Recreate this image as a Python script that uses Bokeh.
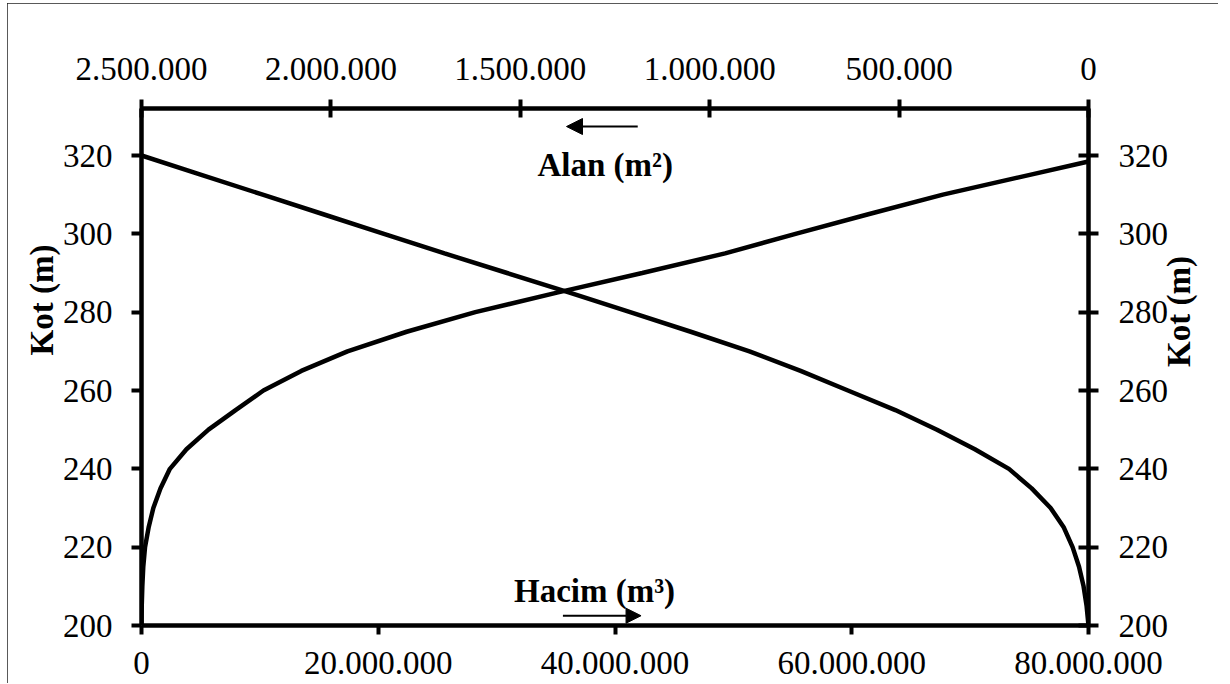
import math
from bokeh.plotting import figure
from bokeh.models import (Range1d, LinearAxis, FixedTicker, CustomJSTickFormatter,
                          Arrow, NormalHead, Label, Title)
from bokeh.embed import file_html
from bokeh.resources import INLINE

# ---- data ----
elevation = [200, 205, 210, 215, 220, 225, 230, 235, 240, 245, 250, 255, 260,
             265, 270, 275, 280, 285, 290, 295, 300, 305, 310, 315, 320]  # Kot (m)
area = [0, 5e3, 13e3, 25e3, 42e3, 65e3, 100e3, 150e3, 210e3, 300e3, 400e3, 510e3,
        635e3, 760e3, 895e3, 1.05e6, 1.21e6, 1.37e6, 1.535e6, 1.70e6, 1.86e6,
        2.02e6, 2.18e6, 2.34e6, 2.50e6]  # Alan (m²)
volume = [0, 0.02e6, 0.07e6, 0.15e6, 0.3e6, 0.6e6, 1.0e6, 1.6e6, 2.4e6, 3.8e6,
          5.66e6, 7.95e6, 10.3e6, 13.5e6, 17.4e6, 22.4e6, 28.2e6, 35.1e6, 42.3e6,
          49.3e6, 55.25e6, 61.4e6, 67.7e6, 74.95e6, 82.2e6]  # Hacim (m³)

volume_ticks = [0, 20e6, 40e6, 60e6, 80e6]
area_ticks = [0, 500e3, 1000e3, 1500e3, 2000e3, 2500e3]
elev_ticks = [200, 220, 240, 260, 280, 300, 320]

FONT = "Liberation Serif"
FS = "33px"

p = figure(width=1211, height=680, output_backend="svg", toolbar_location=None,
           x_range=Range1d(0, 80e6), y_range=Range1d(200, 332),
           x_axis_location=None, y_axis_location=None)
p.extra_x_ranges = {"area": Range1d(2.5e6, 0)}
p.grid.visible = False
p.outline_line_color = None
p.min_border_left = 134
p.min_border_right = 128
p.min_border_top = 105
p.min_border_bottom = 58
p.styles = {"outline": "1.5px solid #222", "outline-offset": "-1.5px",
            "margin-left": "7px", "margin-top": "3px"}

fmt = CustomJSTickFormatter(
    code="return Math.round(tick).toString().replace(/\\B(?=(\\d{3})+(?!\\d))/g, '.');")


def style_axis(ax, t_in, t_out, standoff):
    ax.axis_line_width = 4.5
    ax.axis_line_color = "black"
    ax.major_tick_line_width = 4
    ax.major_tick_line_color = "black"
    ax.major_tick_in = t_in
    ax.major_tick_out = t_out
    ax.minor_tick_line_color = None
    ax.major_label_text_font = FONT
    ax.major_label_text_font_size = FS
    ax.major_label_text_color = "black"
    ax.major_label_standoff = standoff
    ax.axis_label_text_font = FONT
    ax.axis_label_text_font_size = FS
    ax.axis_label_text_font_style = "bold"
    ax.axis_label_text_color = "black"


bottom = LinearAxis(ticker=FixedTicker(ticks=volume_ticks), formatter=fmt)
style_axis(bottom, 0, 9, 17)
p.add_layout(bottom, "below")

top = LinearAxis(x_range_name="area", ticker=FixedTicker(ticks=area_ticks), formatter=fmt)
style_axis(top, 9, 9, 20)
p.add_layout(top, "above")

left = LinearAxis(ticker=FixedTicker(ticks=elev_ticks))
style_axis(left, 0, 10, 19)
p.add_layout(left, "left")

right = LinearAxis(ticker=FixedTicker(ticks=elev_ticks), axis_label="Kot (m)")
style_axis(right, 10, 10, 20)
right.axis_label_orientation = math.pi / 2
right.axis_label_standoff = 8
p.add_layout(right, "right")

# left axis title (moved up along the axis as in the reference)
p.add_layout(Title(text="Kot (m)", align="left", offset=270, standoff=0,
                   text_font=FONT, text_font_style="bold", text_font_size=FS,
                   text_color="black"), "left")

# curves
p.line(volume, elevation, line_color="black", line_width=4.5)
p.line(area, elevation, x_range_name="area", line_color="black", line_width=4.5)

# arrows and in-plot axis titles
p.add_layout(Arrow(end=NormalHead(size=16, fill_color="black", line_color="black"),
                   x_start=1.19e6, y_start=327.4, x_end=1.378e6, y_end=327.4,
                   x_range_name="area", line_width=2, line_color="black"))
p.add_layout(Arrow(end=NormalHead(size=15, fill_color="black", line_color="black"),
                   x_start=35.6e6, y_start=202.5, x_end=42.2e6, y_end=202.5,
                   line_width=2, line_color="black"))

title_style = dict(text_font=FONT, text_font_style="bold", text_font_size=FS,
                   text_color="black")
p.add_layout(Label(x=1.276e6, y=317.7, x_range_name="area", text="Alan (m²)",
                   text_align="center", text_baseline="alphabetic", **title_style))
p.add_layout(Label(x=38.27e6, y=208.9, text="Hacim (m³)",
                   text_align="center", text_baseline="alphabetic", **title_style))

open("out.html", "w").write(file_html(p, INLINE))
